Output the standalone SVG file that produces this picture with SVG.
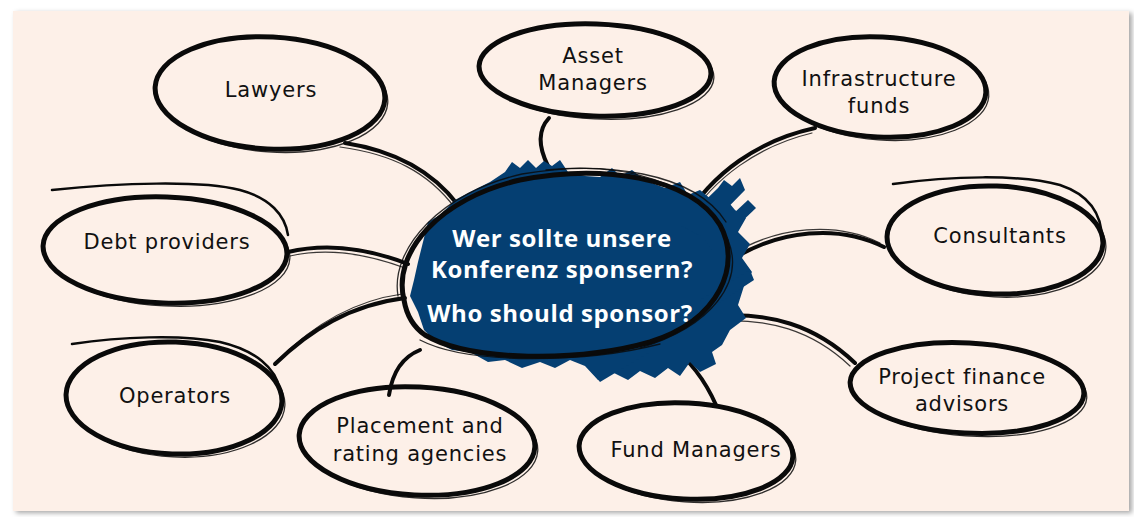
<svg xmlns="http://www.w3.org/2000/svg" width="1134" height="517" viewBox="0 0 1134 517">
<defs>
<style>
.card{fill:#fdf0e8}
.ring{fill:none;stroke:#0a0a0a;stroke-width:5;stroke-linecap:round}
.ring2{fill:none;stroke:#0a0a0a;stroke-width:1.3;stroke-linecap:round;opacity:.85}
.sw{fill:none;stroke:#0a0a0a;stroke-width:2.5;stroke-linecap:round}
.con{fill:none;stroke:#0a0a0a;stroke-width:4;stroke-linecap:round}
.con2{fill:none;stroke:#0a0a0a;stroke-width:1.2;stroke-linecap:round;opacity:.8}
.lbl{font-family:"DejaVu Sans","Open Sans",sans-serif;font-size:21px;letter-spacing:0.8px;fill:#111;text-anchor:middle}
.ctr{font-family:"Open Sans","DejaVu Sans",sans-serif;font-size:24px;letter-spacing:0.6px;font-weight:bold;fill:#ffffff;text-anchor:middle}
.blue{fill:#053f72}
</style>
<filter id="sh" x="-5%" y="-5%" width="110%" height="110%">
<feDropShadow dx="3" dy="2" stdDeviation="2.5" flood-color="#000" flood-opacity="0.35"/>
</filter>
</defs>
<rect x="0" y="0" width="1134" height="517" fill="#ffffff"/>
<rect class="card" x="13" y="11" width="1116" height="500" filter="url(#sh)"/>

<g id="connectors">
<path class="con" d="M345,143 C390,150 430,168 458,205"/>
<path class="con2" d="M340,147 C392,154 428,172 455,208"/>
<path class="con" d="M549,118 C536,132 540,150 548,166"/>
<path class="con" d="M815,128 C760,140 712,172 683,222"/>
<path class="con2" d="M812,133 C758,146 714,178 688,220"/>
<path class="con" d="M288,252 C330,242 372,250 408,264"/>
<path class="con2" d="M290,256 C330,247 370,255 405,268"/>
<path class="con" d="M884,247 C840,225 780,228 728,262"/>
<path class="con2" d="M880,243 C838,222 778,224 726,258"/>
<path class="con" d="M275,364 C310,330 350,305 405,298"/>
<path class="con2" d="M278,360 C312,326 352,301 402,294"/>
<path class="con" d="M389,395 C392,375 400,358 420,350"/>
<path class="con" d="M716,405 C705,380 690,360 668,343"/>
<path class="con" d="M855,363 C815,325 770,312 714,316"/>
<path class="con2" d="M850,366 C812,330 768,318 716,321"/>
</g>

<g id="center">
<path class="blue" d="M418,262 L428,222 L440,215 L455,200 L470,192 L490,182 L505,172 L512,162 L520,168 L528,160 L536,168 L544,161 L552,166 L560,160 L568,172 L585,176 L600,177 L612,168 L620,176 L632,170 L642,178 L652,183 L665,188 L680,182 L688,195 L700,190 L712,200 L725,198 L735,210 L746,218 L738,232 L750,244 L742,258 L752,272 L744,286 L738,305 L746,318 L730,330 L722,345 L712,352 L716,364 L700,372 L690,362 L680,376 L668,368 L655,378 L640,371 L628,380 L612,372 L598,380 L585,366 L570,360 L555,368 L540,362 L522,368 L505,360 L488,362 L470,352 L452,350 L436,342 L424,330 L418,312 L410,296 L414,280 Z"/>
<path class="blue" d="M680,225 L718,188 L724,180 L732,186 L740,178 L745,190 L700,236 Z"/>
<path class="blue" d="M705,240 L748,200 L756,208 L712,250 Z"/>
<path class="blue" d="M700,300 L750,270 L754,280 L705,312 Z"/>
<path class="blue" d="M590,370 L640,345 L650,352 L600,382 Z"/>
<path class="ring" d="M404,300 C392,252 440,198 520,180 C600,164 690,176 720,225 C742,265 720,320 650,342 C580,362 470,362 425,335 C412,326 406,312 404,300 Z"/>
<path class="ring2" d="M398,296 C390,248 442,192 522,174 C604,160 694,172 726,222"/>
<path class="ring2" d="M546,170 C620,162 700,180 728,240 C745,282 712,326 640,348"/>
<path class="ring2" d="M420,340 C470,366 590,362 660,344"/>
<text class="ctr" x="562" y="247">Wer sollte unsere</text>
<text class="ctr" x="562" y="278">Konferenz sponsern?</text>
<text class="ctr" x="560" y="322">Who should sponsor?</text>
</g>

<g id="n-lawyers">
<ellipse class="ring" cx="270" cy="93" rx="115" ry="56" transform="rotate(3 270 93)"/>
<ellipse class="ring2" cx="272" cy="95" rx="116" ry="57" transform="rotate(4 272 95)"/>
<text class="lbl" x="271" y="97">Lawyers</text>
</g>

<g id="n-asset">
<ellipse class="ring" cx="595" cy="70" rx="116" ry="46" transform="rotate(2 595 70)"/>
<ellipse class="ring2" cx="597" cy="72" rx="117" ry="47" transform="rotate(3 597 72)"/>
<text class="lbl" x="593" y="63">Asset</text>
<text class="lbl" x="593" y="90">Managers</text>
</g>

<g id="n-infra">
<ellipse class="ring" cx="880" cy="87" rx="106" ry="50" transform="rotate(3 880 87)"/>
<ellipse class="ring2" cx="882" cy="89" rx="107" ry="51" transform="rotate(4 882 89)"/>
<text class="lbl" x="879" y="86">Infrastructure</text>
<text class="lbl" x="879" y="113">funds</text>
</g>

<g id="n-debt">
<ellipse class="ring" cx="165" cy="250" rx="122" ry="53" transform="rotate(2 165 250)"/>
<ellipse class="ring2" cx="167" cy="252" rx="123" ry="54" transform="rotate(3 167 252)"/>
<path class="sw" d="M52,190 C120,183 200,180 240,190 C270,198 285,215 288,235"/>
<text class="lbl" x="167" y="249">Debt providers</text>
</g>

<g id="n-consult">
<ellipse class="ring" cx="995" cy="240" rx="108" ry="54" transform="rotate(2 995 240)"/>
<ellipse class="ring2" cx="997" cy="242" rx="109" ry="55" transform="rotate(3 997 242)"/>
<path class="sw" d="M893,184 C950,176 1020,174 1060,185 C1090,195 1102,215 1102,240"/>
<text class="lbl" x="1000" y="243">Consultants</text>
</g>

<g id="n-operators">
<ellipse class="ring" cx="174" cy="398" rx="108" ry="56" transform="rotate(2 174 398)"/>
<ellipse class="ring2" cx="176" cy="400" rx="109" ry="57" transform="rotate(3 176 400)"/>
<path class="sw" d="M72,344 C120,337 180,334 220,342 C255,350 276,368 280,390"/>
<text class="lbl" x="175" y="403">Operators</text>
</g>

<g id="n-placement">
<ellipse class="ring" cx="417" cy="441" rx="118" ry="54" transform="rotate(3 417 441)"/>
<ellipse class="ring2" cx="419" cy="443" rx="119" ry="55" transform="rotate(4 419 443)"/>
<text class="lbl" x="420" y="433">Placement and</text>
<text class="lbl" x="420" y="461">rating agencies</text>
</g>

<g id="n-fund">
<ellipse class="ring" cx="686" cy="451" rx="107" ry="48" transform="rotate(3 686 451)"/>
<ellipse class="ring2" cx="688" cy="453" rx="108" ry="49" transform="rotate(4 688 453)"/>
<text class="lbl" x="696" y="457">Fund Managers</text>
</g>

<g id="n-project">
<ellipse class="ring" cx="967" cy="388" rx="117" ry="45" transform="rotate(3 967 388)"/>
<ellipse class="ring2" cx="969" cy="390" rx="118" ry="46" transform="rotate(4 969 390)"/>
<text class="lbl" x="962" y="384">Project finance</text>
<text class="lbl" x="962" y="411">advisors</text>
</g>
</svg>
